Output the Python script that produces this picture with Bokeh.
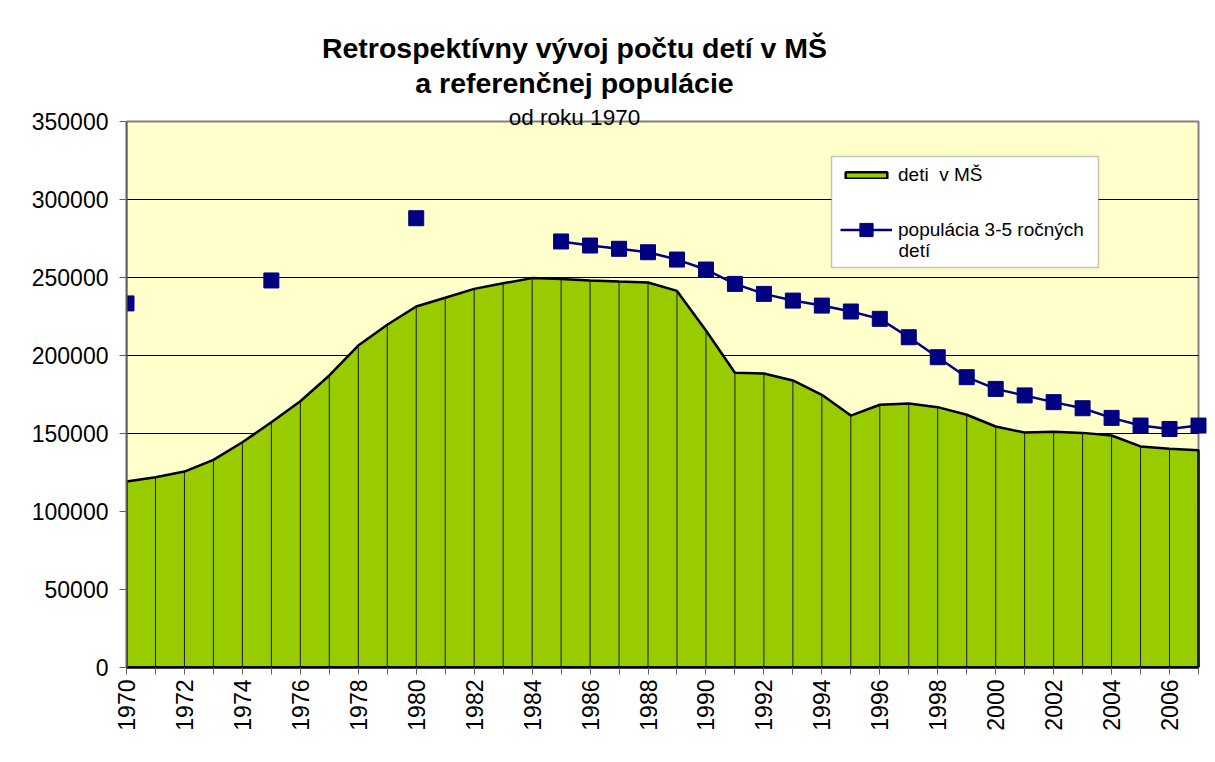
import math
import numpy as np
from bokeh.plotting import figure
from bokeh.models import (Range1d, FixedTicker, Label, Legend, LegendItem,
                          BoxAnnotation, NumeralTickFormatter)
from bokeh.embed import file_html
from bokeh.resources import INLINE

# ---------------- data ----------------
years = list(range(1970, 2008))
deti_v_ms = [119200, 122000, 125600, 133100, 144400, 157200, 170700, 187200, 206400, 219700,
             231400, 237000, 242700, 246300, 249600, 249100, 248100, 247400, 246800, 241400,
             216000, 188900, 188500, 184000, 174800, 161500, 168400, 169200, 166900, 162000,
             154500, 150600, 151100, 150400, 148700, 141700, 140200, 139300]
populacia = [233400, None, None, None, None, 248100, None, None, None, None,
             288000, None, None, None, None, 273100, 270500, 268400, 266200, 261500,
             255100, 245900, 239500, 235200, 232000, 228200, 223500, 211700, 198900, 186100,
             178600, 174400, 170100, 166200, 160000, 155100, 152900, 155100]
y_ticks = list(range(0, 350001, 50000))
x_label_years = [y for y in years if y % 2 == 0]
x_minor_years = [y for y in years if y % 2 == 1]

title1 = "Retrospektívny vývoj počtu detí v MŠ"
title2 = "a referenčnej populácie"
subtitle = "od roku 1970"
name_area = "deti  v MŠ"
name_line = "populácia 3-5 ročných"
name_line_2 = "detí"

# ---------------- layout (pixel positions of the plotting box) ----------------
W, H = 1215, 762
FRAME_L, FRAME_R, FRAME_T, FRAME_B = 126, 1198, 121, 667
X0, X1 = years[0], years[-1]
Y0, Y1 = 0, 350000
def px_x(px):
    return X0 + (px - FRAME_L) * (X1 - X0) / (FRAME_R - FRAME_L)
def px_y(py):
    return Y0 + (FRAME_B - py) * (Y1 - Y0) / (FRAME_B - FRAME_T)

FONT = "Liberation Sans"

pop = np.array([np.nan if v is None else v for v in populacia], dtype=float)

p = figure(width=W, height=H, output_backend="svg", toolbar_location=None,
           x_range=Range1d(X0, px_x(W)), y_range=Range1d(Y0, px_y(0)),
           min_border_left=FRAME_L, min_border_right=0, min_border_top=0,
           min_border_bottom=H - FRAME_B,
           background_fill_color="white", border_fill_color="white",
           outline_line_color=None)
p.title = None

# plotting box background + gridlines
p.quad(left=[X0], right=[X1], bottom=[Y0], top=[Y1], fill_color="#FFFFCC",
       line_color="#808080", line_width=2)
grid_y = y_ticks[1:-1]
p.segment(x0=[X0] * len(grid_y), x1=[X1] * len(grid_y), y0=grid_y, y1=grid_y,
          line_color="black", line_width=1)

# area
area = p.patch(x=[years[0]] + years + [years[-1]], y=[0] + deti_v_ms + [0],
               fill_color="#99CC00", line_color="black", line_width=2.5)
p.segment(x0=years, y0=[0] * len(years), x1=years, y1=deti_v_ms,
          line_color="#1a1a1a", line_width=1)

# population
line_r = p.line(years, pop, line_color="#000080", line_width=2.5)
scat_r = p.scatter(years, pop, marker="square", size=15,
                   fill_color="#000080", line_color="#000080")

# axes
p.xgrid.visible = False
p.ygrid.visible = False

p.yaxis.bounds = (Y0, Y1)
p.yaxis.ticker = FixedTicker(ticks=y_ticks)
p.yaxis.formatter = NumeralTickFormatter(format="0")
p.yaxis.major_label_text_font_size = "23px"
p.yaxis.major_label_text_font = FONT
p.yaxis.major_label_text_color = "black"
p.yaxis.major_tick_out = 7
p.yaxis.major_tick_in = 0
p.yaxis.minor_tick_out = 0
p.yaxis.minor_tick_in = 0
p.yaxis.axis_line_color = "#606060"
p.yaxis.axis_line_width = 2
p.yaxis.major_tick_line_color = "#606060"
p.yaxis.major_label_standoff = 11

p.xaxis.bounds = (X0, X1)
p.xaxis.ticker = FixedTicker(ticks=x_label_years, minor_ticks=x_minor_years)
p.xaxis.formatter = NumeralTickFormatter(format="0")
p.xaxis.major_label_orientation = math.pi / 2
p.xaxis.major_label_text_font_size = "23px"
p.xaxis.major_label_text_font = FONT
p.xaxis.major_label_text_color = "black"
p.xaxis.major_tick_out = 7
p.xaxis.major_tick_in = 0
p.xaxis.minor_tick_out = 7
p.xaxis.minor_tick_in = 0
p.xaxis.axis_line_color = "black"
p.xaxis.axis_line_width = 2.5
p.xaxis.major_tick_line_color = "#606060"
p.xaxis.minor_tick_line_color = "#606060"
p.xaxis.major_label_standoff = 5

# titles
p.add_layout(Label(x=px_x(574), y=px_y(47), text=title1, text_align="center",
                   text_baseline="middle", text_font_size="28.5px", text_font_style="bold",
                   text_font=FONT, text_color="black"))
p.add_layout(Label(x=px_x(574), y=px_y(82), text=title2, text_align="center",
                   text_baseline="middle", text_font_size="28.5px", text_font_style="bold",
                   text_font=FONT, text_color="black"))
p.add_layout(Label(x=px_x(574), y=px_y(117), text=subtitle, text_align="center",
                   text_baseline="middle", text_font_size="22.5px",
                   text_font=FONT, text_color="black"))

# legend box
p.add_layout(BoxAnnotation(left=px_x(831), right=px_x(1098), top=px_y(156), bottom=px_y(267),
                           fill_color="white", fill_alpha=1, line_color="#404040",
                           line_width=1.5))

leg1 = Legend(items=[LegendItem(label=name_area, renderers=[area])],
              location=(840 - FRAME_L, FRAME_B - 186), glyph_width=52, glyph_height=8,
              label_height=8, label_standoff=6, padding=0, margin=0, spacing=0,
              background_fill_alpha=0, border_line_alpha=0,
              label_text_font_size="19px", label_text_font=FONT, label_text_color="black")
leg2 = Legend(items=[LegendItem(label=name_line, renderers=[line_r, scat_r])],
              location=(840 - FRAME_L, FRAME_B - 246), glyph_width=52, glyph_height=33,
              label_height=20, label_standoff=6, padding=0, margin=0, spacing=0,
              background_fill_alpha=0, border_line_alpha=0,
              label_text_font_size="19px", label_text_font=FONT, label_text_color="black")
p.add_layout(leg1)
p.add_layout(leg2)
p.add_layout(Label(x=px_x(898), y=px_y(250), text=name_line_2, text_align="left",
                   text_baseline="middle", text_font_size="19px",
                   text_font=FONT, text_color="black"))

open("out.html", "w").write(file_html(p, INLINE))
